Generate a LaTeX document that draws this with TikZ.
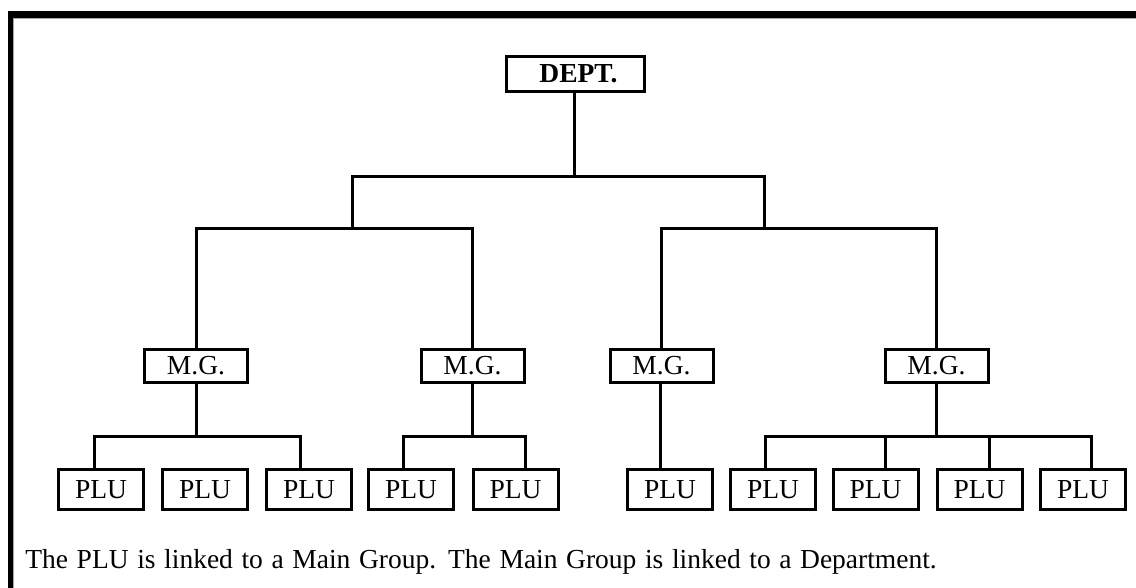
\documentclass[tikz,border=0pt]{standalone}
\usepackage{fontspec}
\setmainfont{Liberation Serif}

\begin{document}
\begin{tikzpicture}[x=0.5pt, y=-0.5pt,
  box/.style={draw, line width=1.5pt, inner sep=0pt, font=\fontsize{13.75}{16}\selectfont},
  deptbox/.style={box, minimum width=69pt, minimum height=17.5pt, font=\fontsize{13.75}{16}\selectfont\bfseries},
  mgbox/.style={box, minimum width=51.5pt, minimum height=16.5pt},
  plubox/.style={box, minimum width=42.5pt, minimum height=20pt},
  link/.style={line width=1.5pt, line cap=rect}]
  \useasboundingbox (0,0) rectangle (1136,588);

  % frame
  \fill[black] (8,11) rectangle (1136,18);
  \fill[black] (8,11) rectangle (13,588);
  \draw[gray!70, line width=0.5pt] (13,18.5) -- (1136,18.5);
  \draw[gray!70, line width=0.5pt] (13.5,18) -- (13.5,588);

  \node[deptbox] (dept) at (575.5,74) {\hspace*{3pt}DEPT.};

  \node[mgbox] (mgA) at (196,366)   {M.G.};
  \node[mgbox] (mgB) at (472.5,366) {M.G.};
  \node[mgbox] (mgC) at (661.5,366) {M.G.};
  \node[mgbox] (mgD) at (936.5,366) {M.G.};

  \node[plubox] (pluA) at (101,489.5)    {PLU};
  \node[plubox] (pluB) at (205,489.5)    {PLU};
  \node[plubox] (pluC) at (309,489.5)    {PLU};
  \node[plubox] (pluD) at (411,489.5)    {PLU};
  \node[plubox] (pluE) at (515.5,489.5)  {PLU};
  \node[plubox] (pluF) at (670,489.5)    {PLU};
  \node[plubox] (pluG) at (773,489.5)    {PLU};
  \node[plubox] (pluH) at (875.5,489.5)  {PLU};
  \node[plubox] (pluI) at (979.5,489.5)  {PLU};
  \node[plubox] (pluJ) at (1083,489.5)   {PLU};

  % junctions
  \coordinate (top) at (574,177);
  \coordinate (jL)  at (352,229);
  \coordinate (jR)  at (764,229);
  \coordinate (dA)  at (94,436);
  \coordinate (dC)  at (300,436);
  \coordinate (dD)  at (403,436);
  \coordinate (dE)  at (525,436);
  \coordinate (dG)  at (765,436);
  \coordinate (dH)  at (885,436);
  \coordinate (dI)  at (989,436);
  \coordinate (dJ)  at (1091,436);

  % dept -> main groups
  \draw[link] (dept.south -| top) -- (top);
  \draw[link] (jL) -- (jL |- top) -- (jR |- top) -- (jR);
  \draw[link] (mgA.north) |- (jL) -| (mgB.north);
  \draw[link] (mgC.north) |- (jR) -| (mgD.north);

  % main groups -> PLUs
  \draw[link] (mgA.south) -- (mgA.south |- dA);
  \draw[link] (dA |- pluA.north) -- (dA) -- (dC) -- (dC |- pluC.north);
  \draw[link] (mgB.south) -- (mgB.south |- dD);
  \draw[link] (dD |- pluD.north) -- (dD) -- (dE) -- (dE |- pluE.north);
  \draw[link] (660,384) coordinate (mC) (mgC.south -| mC) -- (mC |- pluF.north);
  \draw[link] (mgD.south) -- (mgD.south |- dG);
  \draw[link] (dG |- pluG.north) -- (dG) -- (dJ) -- (dJ |- pluJ.north);
  \draw[link] (dH) -- (dH |- pluH.north);
  \draw[link] (dI) -- (dI |- pluI.north);

  \node[anchor=base west, inner sep=0pt, font=\fontsize{13.75}{16}\selectfont] (note) at (25,568)
    {\spaceskip=4.3pt\relax The PLU is linked to a Main Group.\hspace{6pt}The Main Group is linked to a Department.};
\end{tikzpicture}
\end{document}
